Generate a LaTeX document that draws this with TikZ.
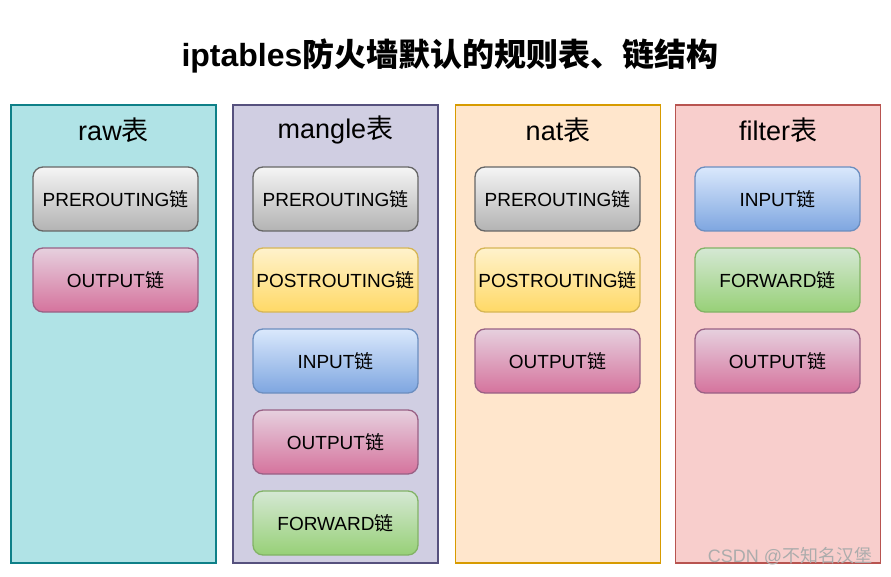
\documentclass[tikz,border=0pt]{standalone}
\usepackage{fontspec}
\setmainfont{Liberation Sans}
\newfontfamily\cjk{Noto Sans CJK SC}
\usepackage{tikz}
\usetikzlibrary{positioning}
\newcommand{\lian}{{\cjk 链}}
\newcommand{\biao}{{\cjk 表}}
% colours of the four tables
\definecolor{rawfill}{HTML}{B0E3E6}\definecolor{rawline}{HTML}{0E8088}
\definecolor{manfill}{HTML}{D0CEE2}\definecolor{manline}{HTML}{56517E}
\definecolor{natfill}{HTML}{FFE6CC}\definecolor{natline}{HTML}{D79B00}
\definecolor{filfill}{HTML}{F8CECC}\definecolor{filline}{HTML}{B85450}
\tikzset{x=1pt,y=-1pt, % Work in pixels of the reference
tablebox/.style=
    { % Sets the properties for each table
        draw,
        line width=1.5pt,
        minimum width=205pt,
        minimum height=458pt,
        inner sep=0pt
    },
    tabletitle/.style={font=\fontsize{27}{31}\selectfont},
    chainbox/.style={ % Sets the properties for each chain
        draw,
        line width=1.3pt,
        rounded corners=10pt,
        minimum width=165pt,
        minimum height=64pt,
        inner sep=0pt,
        font=\fontsize{19}{22}\selectfont
    },
    graychain/.style={chainbox,top color=gray!8,bottom color=gray!60,draw=gray!120},
    pinkchain/.style={chainbox,top color={rgb,255:red,230;green,208;blue,222},bottom color={rgb,255:red,213;green,115;blue,157},draw={rgb,255:red,153;green,97;blue,133}},
    yellowchain/.style={chainbox,top color={rgb,255:red,255;green,242;blue,204},bottom color={rgb,255:red,255;green,217;blue,102},draw={rgb,255:red,214;green,182;blue,86}},
    bluechain/.style={chainbox,top color={rgb,255:red,218;green,232;blue,252},bottom color={rgb,255:red,126;green,166;blue,224},draw={rgb,255:red,108;green,142;blue,191}},
    greenchain/.style={chainbox,top color={rgb,255:red,213;green,232;blue,212},bottom color={rgb,255:red,151;green,208;blue,119},draw={rgb,255:red,130;green,179;blue,102}}
}

\begin{document}
\begin{tikzpicture}
\useasboundingbox (0,0) rectangle (891,577);
\node [font=\fontsize{32}{37}\selectfont\bfseries](0) at (450,56) {iptables{\cjk 防火墙默认的规则表、链结构}};

\node [tablebox,fill=rawfill,draw=rawline](1) at (113.5,334) {};
\node [tablebox,fill=manfill,draw=manline](2) at (335.5,334) {};
\node [tablebox,fill=natfill,draw=natline](3) at (558,334) {};
\node [tablebox,fill=filfill,draw=filline](4) at (778,334) {};
\node [tabletitle] (t1) at (113.5,130) {raw\biao};
\node [tabletitle] (t2) at (335.5,130) {mangle\biao};
\node [tabletitle] (t3) at (558,130) {nat\biao};
\node [tabletitle] (t4) at (778,130) {filter\biao};
%%%%%%%%%%%%%%%%%%%%%%%%%%%%%%%%%%
\node [graychain]   (5) at (115.5,199) {PREROUTING\lian};
\node [pinkchain]   (6) at (115.5,280) {OUTPUT\lian};
%%%%%%%%%%%%%%%%%%%%%%%%%%%%%%%%%%
\node [graychain]   (7) at (335.5,199) {PREROUTING\lian};
\node [yellowchain] (8) at (335.5,280) {POSTROUTING\lian};
\node [bluechain]   (9) at (335.5,361) {INPUT\lian};
\node [pinkchain]  (10) at (335.5,442) {OUTPUT\lian};
\node [greenchain] (11) at (335.5,523) {FORWARD\lian};
%%%%%%%%%%%%%%%%%%%%%%%%%%%%%%%%%%
\node [graychain]  (12) at (557.5,199) {PREROUTING\lian};
\node [yellowchain](13) at (557.5,280) {POSTROUTING\lian};
\node [pinkchain]  (14) at (557.5,361) {OUTPUT\lian};
%%%%%%%%%%%%%%%%%%%%%%%%%%%%%%%%%%
\node [bluechain]  (15) at (777.5,199) {INPUT\lian};
\node [greenchain] (16) at (777.5,280) {FORWARD\lian};
\node [pinkchain]  (17) at (777.5,361) {OUTPUT\lian};

\node [text=gray!65,font=\fontsize{18}{21}\selectfont](wm) at (790,556) {CSDN @{\cjk 不知名汉堡}};
\end{tikzpicture}
\end{document}
